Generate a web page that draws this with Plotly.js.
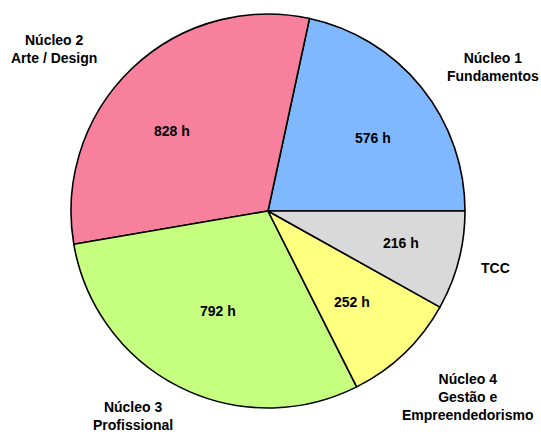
<!DOCTYPE html>
<html>
<head>
<meta charset="utf-8">
<script src="https://cdn.plot.ly/plotly-3.0.1.min.js"></script>
<style>html,body{margin:0;padding:0;background:#fff;}#chart{width:541px;height:434px;}</style>
</head>
<body>
<div id="chart"></div>
<script>
// Data
const categories = ["Núcleo 1<br>Fundamentos", "Núcleo 2<br>Arte / Design", "Núcleo 3<br>Profissional", "Núcleo 4<br>Gestão e<br>Empreendedorismo", "TCC"];
const hours = [576, 828, 792, 252, 216];
const unit = " h";
const colors = ["#80b8ff", "#f7819d", "#c6ff80", "#ffff80", "#d9d9d9"];

// Label placement (pixels from top-left, converted to paper coords)
const W = 541, H = 434;
const outsidePos = [[493, 67], [54, 49], [133, 416], [467, 397], [495, 268]];
const insidePos = [[373, 138], [172, 131], [218, 311], [352, 302], [401, 243]];

const font = {family: "Liberation Sans, Arial, sans-serif", size: 14, color: "#000"};

const annotations = [];
categories.forEach((c, i) => {
  annotations.push({
    text: "<b>" + c + "</b>", xref: "paper", yref: "paper",
    x: outsidePos[i][0] / W, y: 1 - outsidePos[i][1] / H,
    xanchor: "center", yanchor: "middle", showarrow: false, align: "center",
    font: font
  });
  annotations.push({
    text: "<b>" + hours[i] + unit + "</b>", xref: "paper", yref: "paper",
    x: insidePos[i][0] / W, y: 1 - insidePos[i][1] / H,
    xanchor: "center", yanchor: "middle", showarrow: false,
    font: {family: font.family, size: 14, color: "#000"}
  });
});

const total = hours.reduce((a, b) => a + b, 0);

const trace = {
  type: "pie",
  labels: categories,
  values: hours,
  sort: false,
  direction: "counterclockwise",
  rotation: 90 - hours[0] / total * 360,
  textinfo: "none",
  hoverinfo: "label+value",
  marker: {colors: colors, line: {color: "#000", width: 1.6}},
  domain: {x: [(268 - 197) / W, (268 + 197) / W], y: [(H - 408) / H, (H - 14) / H]},
  showlegend: false
};

const layout = {
  width: W, height: H,
  margin: {l: 0, r: 0, t: 0, b: 0},
  paper_bgcolor: "#fff",
  showlegend: false,
  annotations: annotations
};

Plotly.newPlot("chart", [trace], layout, {displayModeBar: false, staticPlot: true});
</script>
</body>
</html>
